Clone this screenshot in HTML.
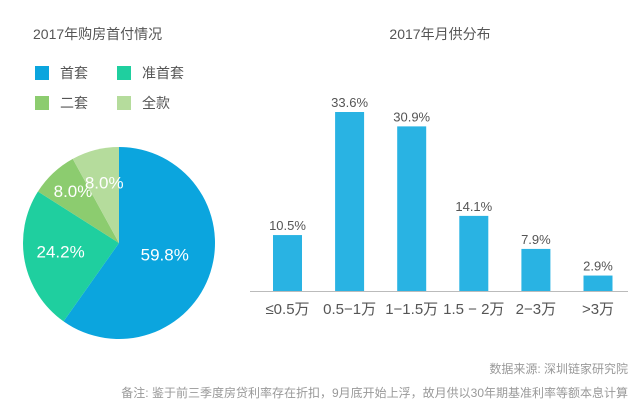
<!DOCTYPE html>
<html><head><meta charset="utf-8"><style>
body{margin:0;background:#fff;width:643px;height:416px;overflow:hidden;font-family:"Liberation Sans","Noto Sans CJK SC",sans-serif}
</style></head><body>
<svg width="643" height="416" style="position:absolute;left:0;top:0" font-family="Liberation Sans, Noto Sans CJK SC, sans-serif">
<text x="33" y="39" font-size="14" fill="#555">2017年购房首付情况</text>
<text x="440" y="39" font-size="14" fill="#555" text-anchor="middle">2017年月供分布</text>
<g id="legend"></g>
<g id="pie"></g>
<g id="bars"></g>
<text x="628" y="373" font-size="12" fill="#999" text-anchor="end">数据来源: 深圳链家研究院</text>
<text x="628" y="397" font-size="12" fill="#999" text-anchor="end">备注: 鉴于前三季度房贷利率存在折扣，9月底开始上浮，故月供以30年期基准利率等额本息计算</text>
</svg>
<script>
const pieLabels=["首套","准首套","二套","全款"];
const pieValues=[59.8,24.2,8.0,8.0];
const pieColors=["#0ba5de","#1fcf9f","#8ccc6f","#b5dc9c"];
const barCats=["≤0.5万","0.5−1万","1−1.5万","1.5 − 2万","2−3万",">3万"];
const barValues=[10.5,33.6,30.9,14.1,7.9,2.9];
const NS="http://www.w3.org/2000/svg";
function mk(t,a,p){const e=document.createElementNS(NS,t);for(const k in a)e.setAttribute(k,a[k]);p.appendChild(e);return e;}
const lg=document.getElementById('legend');
const lpos=[[35,66],[117,66],[35,96],[117,96]];
pieLabels.forEach((l,i)=>{
 const r=mk('rect',{x:lpos[i][0],y:lpos[i][1],width:14,height:14,fill:pieColors[i]},lg);
 
 
 const t=mk('text',{x:lpos[i][0]+25,y:lpos[i][1]+12,'font-size':14,fill:'#555'},lg);t.textContent=l;
 
 
});
const pg=document.getElementById('pie');
const cx=119,cy=243,R=96;const tot=pieValues.reduce((a,b)=>a+b,0);
let a0=0;
const lblR=[0.5,0.62,0.7,0.62];
pieValues.forEach((v,i)=>{
 const a1=a0+v/tot*2*Math.PI;
 const p=(a)=>[cx+R*Math.sin(a),cy-R*Math.cos(a)];
 const [x0,y0]=p(a0),[x1,y1]=p(a1);
 const s=mk('path',{d:`M${cx},${cy}L${x0},${y0}A${R},${R} 0 ${a1-a0>Math.PI?1:0} 1 ${x1},${y1}Z`,fill:pieColors[i]},pg);
 
 
 const am=(a0+a1)/2,rr=R*lblR[i];
 const t=mk('text',{x:cx+rr*Math.sin(am),y:cy-rr*Math.cos(am)+3,'font-size':17,fill:'#fff','text-anchor':'middle'},pg);
 t.textContent=v.toFixed(1)+'%';
 
 
 a0=a1;
});
const bg=document.getElementById('bars');
const base=291,scale=179/33.6,x0b=287.5,step=62.1,bw=29;
const ax=mk('line',{x1:250,x2:628,y1:base+0.5,y2:base+0.5,stroke:'#bbb','stroke-width':1},bg);


barValues.forEach((v,i)=>{
 const cxb=x0b+i*step,h=v*scale;
 const r=mk('rect',{x:cxb-bw/2,y:base-h,width:bw,height:h,fill:'#29b3e3'},bg);
 
 
 const t=mk('text',{x:cxb,y:base-h-5,'font-size':13,fill:'#555','text-anchor':'middle'},bg);t.textContent=v.toFixed(1)+'%';
 
 
 const c=mk('text',{x:cxb,y:314,'font-size':15,fill:'#555','text-anchor':'middle'},bg);c.textContent=barCats[i];
 
 
});
</script>
</body></html>
